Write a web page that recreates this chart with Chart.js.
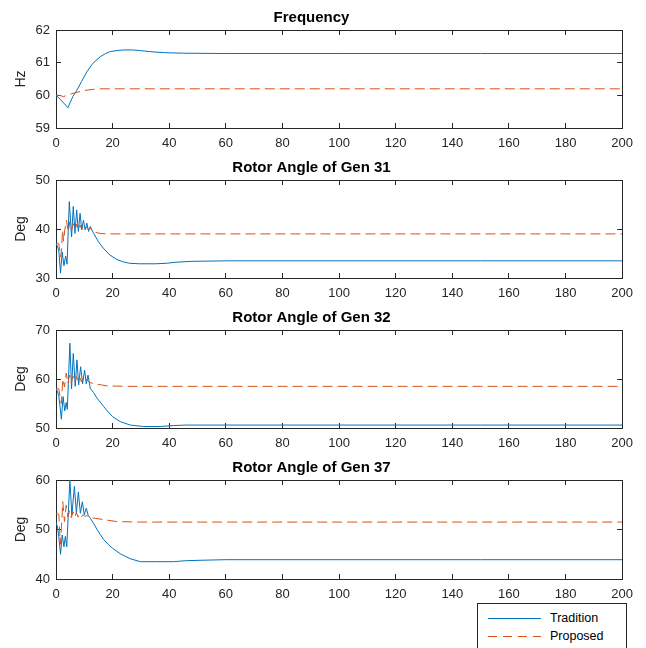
<!DOCTYPE html>
<html>
<head>
<meta charset="utf-8">
<script src="https://cdn.jsdelivr.net/npm/chart.js@4.4.1/dist/chart.umd.min.js"></script>
<style>
  body { margin: 0; background: #fff; width: 646px; height: 648px; overflow: hidden; position: relative;
         font-family: "Liberation Sans", Arial, sans-serif; }
  canvas { position: absolute; left: 0; }
  #legend { position: absolute; left: 477px; top: 603px; width: 148px; height: 60px;
            border: 1px solid #262626; background: #fff; }
  #legend .item { position: absolute; left: 0; width: 148px; height: 14px; font-size: 12.5px; color: #000; }
  #legend .line { position: absolute; left: 10px; top: 7px; width: 53px; height: 1px; }
  #legend .label { position: absolute; left: 72px; top: 0; line-height: 14px; }
</style>
</head>
<body>
<canvas id="c1" width="646" height="150" style="top:0px"></canvas>
<canvas id="c2" width="646" height="150" style="top:150px"></canvas>
<canvas id="c3" width="646" height="150" style="top:300px"></canvas>
<canvas id="c4" width="646" height="151" style="top:450px"></canvas>
<div id="legend"></div>
<script>
// series names / colours
const seriesNames = ['Tradition', 'Proposed'];
const seriesColors = ['#0072BD', '#D95319'];

// axis ticks
const xTicks = [0, 20, 40, 60, 80, 100, 120, 140, 160, 180, 200];
const freqTicks = [59, 60, 61, 62];
const gen31Ticks = [30, 40, 50];
const gen32Ticks = [50, 60, 70];
const gen37Ticks = [40, 50, 60];

// Frequency (Hz)
const freqTradT = [0, 1, 2, 3, 4.2, 5, 6, 7.4, 9, 10.9, 13, 15.6, 17.5, 19.2, 21.5, 23.9, 27, 29.8, 33, 35.6, 38, 40.4, 45, 60, 100, 150, 200];
const freqTrad = [60.0, 59.92, 59.83, 59.74, 59.62, 59.78, 59.97, 60.16, 60.42, 60.72, 60.98, 61.18, 61.28, 61.34, 61.37, 61.39, 61.39, 61.37, 61.34, 61.32, 61.31, 61.3, 61.29, 61.28, 61.28, 61.28, 61.28];
const freqPropT = [0, 1, 2, 2.7, 3.5, 4.5, 5.5, 7.4, 9, 11, 13, 14.5, 17, 20, 30, 60, 100, 200];
const freqProp = [60.0, 60.0, 59.98, 59.96, 59.99, 60.02, 60.05, 60.09, 60.13, 60.16, 60.18, 60.2, 60.2, 60.2, 60.2, 60.2, 60.2, 60.2];

// Rotor angle Gen 31 (Deg)
const gen31TradT = [0, 0.5, 1, 1.6, 2.2, 2.8, 3.4, 3.9, 4.7, 5.5, 6.1, 6.7, 7.3, 7.9, 8.5, 9.1, 9.7, 10.3, 10.9, 11.5, 12.1, 13.3, 15, 16.7, 19, 21.4, 23.7, 26, 29.6, 35, 39, 42, 48, 60, 100, 150, 200];
const gen31Trad = [37, 36.5, 35.5, 31, 35.3, 32.5, 34.5, 32.8, 45.6, 38.4, 44.6, 39.1, 43.9, 39.5, 43.2, 39.8, 41.8, 39.8, 41.2, 39.5, 40.5, 39.1, 37.4, 36.1, 34.7, 33.8, 33.3, 33.0, 32.9, 32.9, 33.0, 33.2, 33.4, 33.5, 33.5, 33.5, 33.5];
const gen31PropT = [0, 1, 1.6, 2.0, 2.3, 2.7, 3.1, 3.7, 4.3, 4.9, 5.5, 6.1, 6.7, 7.3, 7.9, 8.5, 9.1, 9.7, 10.3, 10.9, 11.5, 12.1, 13.3, 15.6, 18, 25, 60, 100, 150, 200];
const gen31Prop = [37, 37, 34.3, 36, 39.8, 37.5, 39.8, 41.8, 39.4, 41.5, 39.8, 41.1, 39.8, 41, 39.8, 40.8, 39.9, 40.6, 39.9, 40.4, 39.9, 40.2, 39.4, 39.1, 39.0, 39.0, 39.0, 39.0, 39.0, 39.0];

// Rotor angle Gen 32 (Deg)
const gen32TradT = [0, 0.5, 1, 1.5, 1.9, 2.5, 3.1, 3.6, 4.0, 4.9, 5.5, 6.1, 6.8, 7.4, 8.0, 8.7, 9.4, 10.1, 10.7, 11.3, 12.1, 13.3, 14.5, 15.6, 16.8, 18.4, 20, 22.7, 26.2, 31, 36.8, 41.5, 46, 60, 100, 150, 200];
const gen32Trad = [58, 57.5, 56.5, 54, 51.8, 56.4, 53.5, 55.2, 53.8, 67.3, 58, 65.2, 58.5, 63.9, 58.8, 62.5, 59, 61.8, 59, 60.8, 58.1, 57.2, 56.1, 55.3, 54.4, 53.3, 52.3, 51.3, 50.6, 50.3, 50.3, 50.5, 50.6, 50.6, 50.6, 50.6, 50.6];
const gen32PropT = [0, 1, 1.5, 1.9, 2.4, 3.0, 3.6, 4.2, 4.8, 5.4, 6.0, 6.6, 7.2, 7.8, 8.4, 9.0, 9.6, 10.2, 10.8, 11.4, 12, 13.5, 16, 18, 25, 60, 100, 150, 200];
const gen32Prop = [58, 58, 56.1, 55, 60, 58.4, 61.2, 59.1, 60.8, 59.2, 60.6, 59.3, 60.5, 59.4, 60.3, 59.4, 60.2, 59.5, 60, 59.5, 59.3, 59.0, 58.8, 58.6, 58.5, 58.5, 58.5, 58.5, 58.5];

// Rotor angle Gen 37 (Deg)
const gen37TradT = [0, 0.5, 1, 1.6, 2.2, 2.8, 3.3, 3.8, 4.9, 5.6, 6.5, 7.2, 7.9, 8.6, 9.3, 10, 10.7, 11.4, 12.1, 13.3, 14.5, 15.6, 16.8, 18.4, 20, 22.7, 26.2, 29.8, 35.6, 41.5, 46, 52, 60, 100, 150, 200];
const gen37Trad = [51.5, 50.5, 48.5, 45, 48.9, 46.5, 48.6, 46.5, 60, 52.9, 58.7, 53.3, 57.6, 53.3, 55.6, 53.0, 54.3, 52.8, 52.3, 51.2, 50, 49, 48, 47, 46.2, 45.1, 44.1, 43.5, 43.5, 43.5, 43.7, 43.8, 43.9, 43.9, 43.9, 43.9];
const gen37PropT = [0, 1, 1.5, 1.9, 2.4, 3.0, 3.6, 4.2, 4.8, 5.4, 6.0, 6.6, 7.2, 7.8, 8.4, 9.0, 9.6, 10.2, 10.8, 11.4, 12, 13.3, 16.8, 21.5, 30, 60, 100, 150, 200];
const gen37Prop = [53.2, 53.1, 47, 50, 55.6, 51.6, 54.9, 52.6, 53.8, 52.4, 53.6, 52.5, 53.4, 52.5, 53.2, 52.6, 53, 52.6, 52.9, 52.5, 52.5, 52.3, 52.0, 51.6, 51.5, 51.5, 51.5, 51.5, 51.5];

const axisColor = '#262626';
const fontFamily = "'Liberation Sans', Arial, sans-serif";
Chart.defaults.font.family = fontFamily;

function pairs(xs, ys) {
  return xs.map((x, i) => ({ x: x, y: ys[i] }));
}

function setTicks(values) {
  return scale => { scale.ticks = values.map(v => ({ value: v })); };
}

function makePanel(id, title, yLabel, yTicks, tradT, trad, propT, prop) {
  const ctx = document.getElementById(id).getContext('2d');
  const tickFont = { size: 13, family: fontFamily };
  return new Chart(ctx, {
    type: 'line',
    data: {
      datasets: [{
        label: seriesNames[0],
        data: pairs(tradT, trad),
        borderColor: seriesColors[0],
        borderWidth: 1,
        pointRadius: 0,
        tension: 0,
        order: 1
      }, {
        label: seriesNames[1],
        data: pairs(propT, prop),
        borderColor: seriesColors[1],
        borderWidth: 1,
        borderDash: [10, 5],
        pointRadius: 0,
        tension: 0,
        order: 0
      }]
    },
    options: {
      responsive: false,
      animation: false,
      devicePixelRatio: 1,
      layout: { padding: { left: 0, right: 23, top: 0, bottom: 0 } },
      plugins: {
        legend: { display: false },
        tooltip: { enabled: false },
        title: {
          display: true,
          text: title,
          color: '#000',
          font: { size: 15, weight: 'bold', family: fontFamily },
          padding: { top: 9, bottom: 3 }
        }
      },
      scales: {
        x: {
          type: 'linear', position: 'bottom',
          min: xTicks[0], max: xTicks[xTicks.length - 1],
          afterBuildTicks: setTicks(xTicks),
          afterFit: s => { s.height = 22; },
          ticks: { color: axisColor, font: tickFont, padding: 13, maxRotation: 0, autoSkip: false },
          grid: { drawOnChartArea: false, tickLength: -5, color: axisColor },
          border: { color: axisColor, width: 1 }
        },
        x2: {
          type: 'linear', position: 'top',
          min: xTicks[0], max: xTicks[xTicks.length - 1],
          afterBuildTicks: setTicks(xTicks),
          afterFit: s => { s.height = 0; },
          ticks: { display: false },
          grid: { drawOnChartArea: false, tickLength: -5, color: axisColor },
          border: { color: axisColor, width: 1 }
        },
        y: {
          type: 'linear', position: 'left',
          min: yTicks[0], max: yTicks[yTicks.length - 1],
          afterBuildTicks: setTicks(yTicks),
          afterFit: s => { s.width = 56; },
          ticks: { color: axisColor, font: tickFont, padding: 11 },
          grid: { drawOnChartArea: false, tickLength: -5, color: axisColor },
          border: { color: axisColor, width: 1 },
          title: { display: true, text: yLabel, color: axisColor, font: { size: 14, family: fontFamily }, padding: { top: 13, bottom: 0 } }
        },
        y2: {
          type: 'linear', position: 'right',
          min: yTicks[0], max: yTicks[yTicks.length - 1],
          afterBuildTicks: setTicks(yTicks),
          afterFit: s => { s.width = 0; },
          ticks: { display: false },
          grid: { drawOnChartArea: false, tickLength: -5, color: axisColor },
          border: { color: axisColor, width: 1 }
        }
      }
    }
  });
}

makePanel('c1', 'Frequency', 'Hz', freqTicks, freqTradT, freqTrad, freqPropT, freqProp);
makePanel('c2', 'Rotor Angle of Gen 31', 'Deg', gen31Ticks, gen31TradT, gen31Trad, gen31PropT, gen31Prop);
makePanel('c3', 'Rotor Angle of Gen 32', 'Deg', gen32Ticks, gen32TradT, gen32Trad, gen32PropT, gen32Prop);
makePanel('c4', 'Rotor Angle of Gen 37', 'Deg', gen37Ticks, gen37TradT, gen37Trad, gen37PropT, gen37Prop);

// legend box under the last panel
const legend = document.getElementById('legend');
seriesNames.forEach((name, i) => {
  const item = document.createElement('div');
  item.className = 'item';
  item.style.top = (7 + i * 18) + 'px';
  const line = document.createElement('div');
  line.className = 'line';
  if (i === 0) {
    line.style.background = seriesColors[i];
  } else {
    line.style.background = `repeating-linear-gradient(to right, ${seriesColors[i]} 0 9px, transparent 9px 15px)`;
  }
  const label = document.createElement('span');
  label.className = 'label';
  label.textContent = name;
  item.appendChild(line);
  item.appendChild(label);
  legend.appendChild(item);
});
</script>
</body>
</html>
